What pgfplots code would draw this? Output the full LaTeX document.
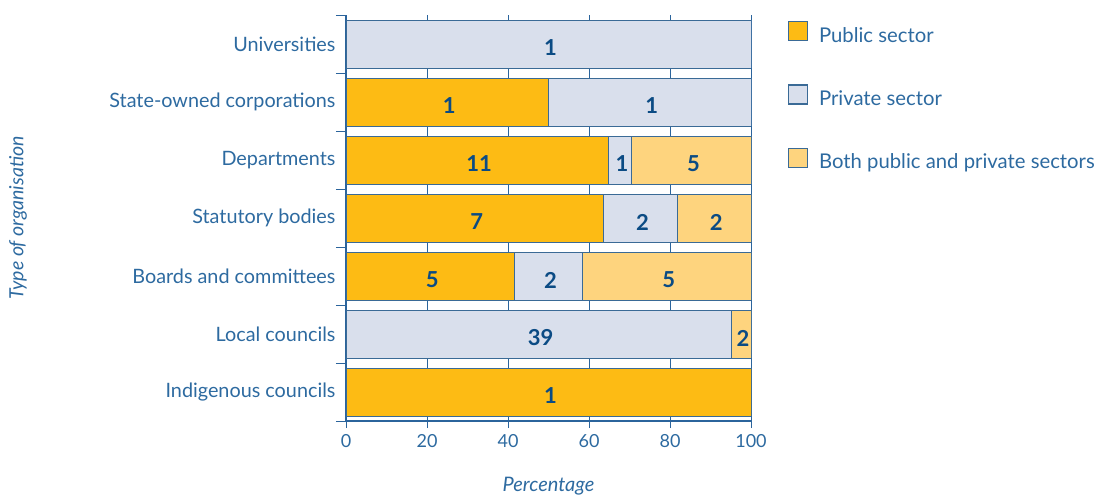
\documentclass[border=0pt]{standalone}
\usepackage{pgfplots}
\usepackage{pgfplotstable}
\pgfplotsset{compat=1.18}
\usepackage{fontspec}
\setmainfont{Lato}
\definecolor{pubc}{HTML}{FDBB14}
\definecolor{privc}{HTML}{D9DFEC}
\definecolor{bothc}{HTML}{FED47E}
\definecolor{barborder}{HTML}{3A6A96}
\definecolor{axisblue}{HTML}{2B649C}
\definecolor{textblue}{HTML}{2D6AA0}
\definecolor{navy}{HTML}{0B4B84}

\pgfplotstableread{
y pub priv both
0 100 0 0
1 0 95.12 4.88
2 41.67 16.67 41.66
3 63.64 18.18 18.18
4 64.71 5.88 29.41
5 50 50 0
6 0 100 0
}\bars

\pgfplotstableread{
x y lab
50 6 1
25 5 1
75 5 1
32.35 4 11
67.65 4 1
85.29 4 5
31.82 3 7
72.73 3 2
90.91 3 2
20.83 2 5
50 2 2
79.17 2 5
47.56 1 39
97.56 1 2
50 0 1
}\labels

\begin{document}
\begin{tikzpicture}[x=1pt,y=1pt]
\path[use as bounding box] (0,0) rectangle (1100,496);
\begin{axis}[
  at={(346pt,75pt)}, anchor=south west,
  scale only axis, width=405pt, height=406pt,
  xmin=0, xmax=100, ymin=-0.5, ymax=6.5,
  xbar stacked, bar width=48pt,
  axis x line*=bottom, axis y line*=left,
  axis line style={color=axisblue, line width=1.2pt},
  xtick={0,20,...,100}, xmajorgrids,
  grid style={color=axisblue, line width=1pt},
  ytick={0,...,6},
  yticklabels={Indigenous councils, Local councils, Boards and committees, Statutory bodies, Departments, State-owned corporations, Universities},
  minor ytick={-0.5,0.5,...,6.5},
  tick align=outside, major tick length=7pt, minor tick length=10pt,
  tick style={color=axisblue, line width=1pt},
  major y tick style={draw=none},
  /pgf/number format/assume math mode=true,
  xticklabel style={font=\fontsize{18}{20}\selectfont, color=textblue, yshift=-3pt},
  yticklabel style={font=\fontsize{19.8}{22}\selectfont, color=textblue},
  xlabel={Percentage},
  xlabel style={at={(axis description cs:0.5,-0.16)}, anchor=center, font=\fontsize{20}{22}\selectfont\itshape, color=textblue},
  ylabel={Type of organisation},
  ylabel style={at={(axis description cs:-0.81,0.5)}, anchor=center, font=\fontsize{19.5}{22}\selectfont\itshape, color=textblue},
  legend style={at={(axis description cs:1.083,0.9906)}, anchor=north west, draw=none, fill=none,
    font=\fontsize{20.3}{22}\selectfont, text=textblue, row sep=38.5pt, column sep=9pt, cells={anchor=west}},
  legend cell align=left,
]
\addplot[fill=pubc, draw=barborder, line width=0.9pt,
  legend image code/.code={\draw[fill=pubc, draw=barborder, line width=1.2pt] (0pt,-5pt) rectangle (19pt,14pt);}]
  table[x=pub, y=y] {\bars};
\addlegendentry{Public sector}
\addplot[fill=privc, draw=barborder, line width=0.9pt,
  legend image code/.code={\draw[fill=privc, draw=barborder, line width=1.2pt] (0pt,-5pt) rectangle (19pt,14pt);}]
  table[x=priv, y=y] {\bars};
\addlegendentry{Private sector}
\addplot[fill=bothc, draw=barborder, line width=0.9pt,
  legend image code/.code={\draw[fill=bothc, draw=barborder, line width=1.2pt] (0pt,-5pt) rectangle (19pt,14pt);}]
  table[x=both, y=y] {\bars};
\addlegendentry{Both public and private sectors}
\end{axis}
\begin{axis}[
  at={(346pt,75pt)}, anchor=south west,
  scale only axis, width=405pt, height=406pt,
  xmin=0, xmax=100, ymin=-0.5, ymax=6.5,
  hide axis,
]
\addplot[draw=none, mark=none, nodes near coords, point meta=explicit symbolic,
  nodes near coords align=center,
  every node near coord/.append style={font=\fontsize{22}{24}\selectfont\bfseries, color=navy, yshift=-4pt, xshift=2pt}]
  table[x=x, y=y, meta=lab] {\labels};
\end{axis}
\end{tikzpicture}
\end{document}
